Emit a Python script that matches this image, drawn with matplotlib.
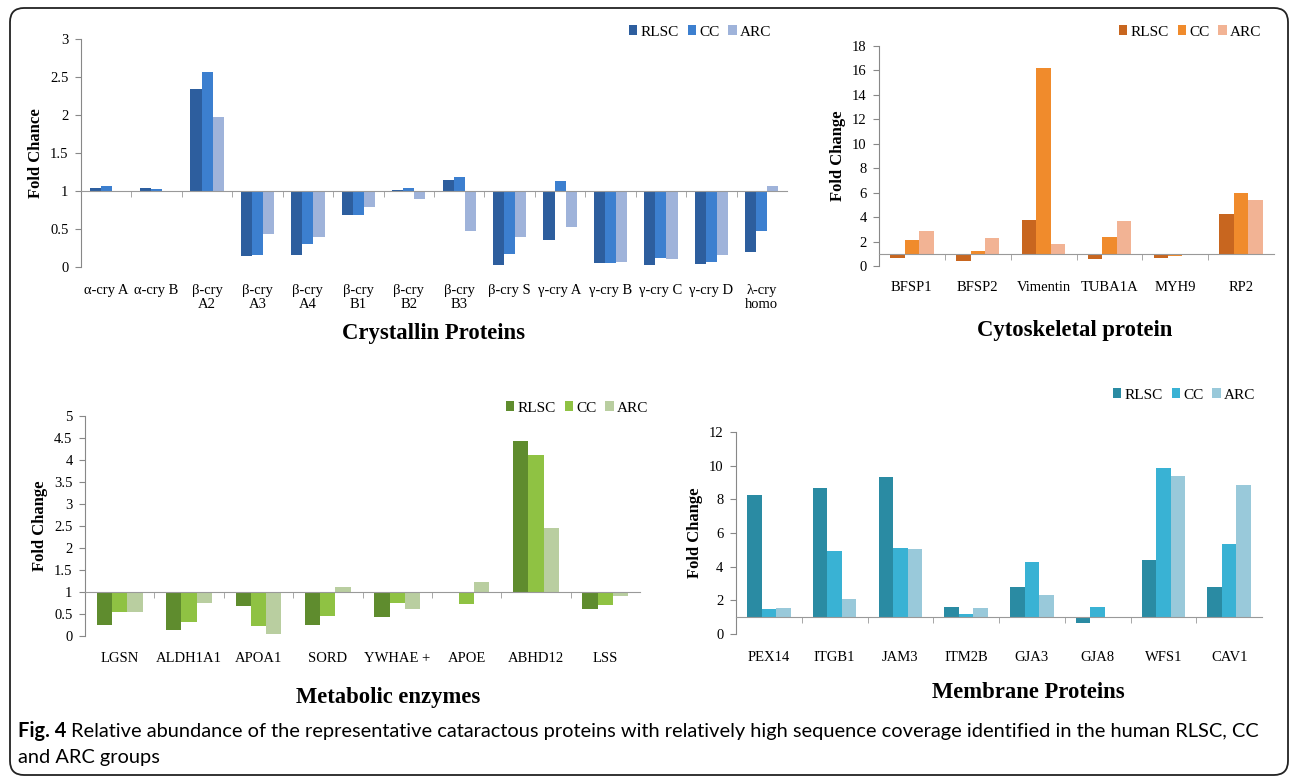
import numpy as np
import matplotlib
matplotlib.use("Agg")
import matplotlib.pyplot as plt
from matplotlib.patches import FancyBboxPatch
from matplotlib.transforms import IdentityTransform

W, H = 1292, 780
series = ["RLSC", "CC", "ARC"]

# Crystallin proteins
cry_labels = ["α-cry A", "α-cry B", "β-cry\nA2", "β-cry\nA3", "β-cry\nA4", "β-cry\nB1", "β-cry\nB2",
              "β-cry\nB3", "β-cry S", "γ-cry A", "γ-cry B", "γ-cry C", "γ-cry D", "λ-cry\nhomo"]
cry_rlsc = [1.04, 1.04, 2.34, 0.15, 0.16, 0.68, 1.01, 1.15, 0.02, 0.35, 0.05, 0.03, 0.04, 0.20]
cry_cc = [1.06, 1.03, 2.56, 0.16, 0.30, 0.68, 1.04, 1.18, 0.17, 1.13, 0.05, 0.12, 0.07, 0.48]
cry_arc = [1.00, 0.99, 1.97, 0.43, 0.39, 0.79, 0.89, 0.48, 0.39, 0.52, 0.06, 0.11, 0.16, 1.06]

# Cytoskeletal proteins
cyto_labels = ["BFSP1", "BFSP2", "Vimentin", "TUBA1A", "MYH9", "RP2"]
cyto_rlsc = [0.65, 0.38, 3.8, 0.6, 0.65, 4.25]
cyto_cc = [2.15, 1.23, 16.2, 2.4, 0.85, 5.95]
cyto_arc = [2.87, 2.28, 1.8, 3.7, 0.97, 5.4]

# Metabolic enzymes
met_labels = ["LGSN", "ALDH1A1", "APOA1", "SORD", "YWHAE +", "APOE", "ABHD12", "LSS"]
met_rlsc = [0.25, 0.13, 0.69, 0.25, 0.44, 1.0, 4.44, 0.62]
met_cc = [0.54, 0.31, 0.23, 0.46, 0.75, 0.73, 4.12, 0.71]
met_arc = [0.54, 0.76, 0.05, 1.11, 0.62, 1.23, 2.46, 0.90]

# Membrane proteins
mem_labels = ["PEX14", "ITGB1", "JAM3", "ITM2B", "GJA3", "GJA8", "WFS1", "CAV1"]
mem_rlsc = [8.28, 8.67, 9.35, 1.6, 2.8, 0.65, 4.37, 2.78]
mem_cc = [1.47, 4.93, 5.13, 1.21, 4.27, 1.63, 9.88, 5.32]
mem_arc = [1.53, 2.05, 5.05, 1.53, 2.3, 0.97, 9.39, 8.86]

serif = "Liberation Serif"
fig = plt.figure(figsize=(W / 100, H / 100), dpi=100)

# rounded frame
fig.patches.append(FancyBboxPatch((10, 5), 1278, 767, boxstyle="round,pad=0,rounding_size=14",
                                  transform=IdentityTransform(), fill=False, lw=1.3, ec="#222222"))


def rect(l, t, r, b):
    return [l / W, 1 - b / H, (r - l) / W, (b - t) / H]


def panel(box, labels, vals, colors, ymax, ystep, ylabel, title, title_xy, legend_xy, ytl, label_top):
    ax = fig.add_axes(rect(*box))
    x = np.arange(len(labels))
    w = 0.22
    for k, (v, c) in enumerate(zip(vals, colors)):
        v = np.array(v)
        ax.bar(x + (k - 1) * w, v - 1, bottom=1, width=w, color=c, label=series[k], zorder=2)
    ax.set_xlim(-0.5, len(labels) - 0.5)
    ax.set_ylim(0, ymax)
    ax.set_yticks(np.arange(0, ymax + ystep / 2, ystep))
    ax.set_yticklabels(ytl, fontfamily=serif, fontsize=10.5)
    for s in ["top", "right"]:
        ax.spines[s].set_visible(False)
    ax.spines["left"].set_color("#888888")
    ax.spines["bottom"].set_color("#999999")
    ax.spines["bottom"].set_position(("data", 1))
    ax.tick_params(axis="y", color="#888888", length=4, pad=5)
    # tick marks between categories
    ax.set_xticks(np.arange(len(labels) - 1) + 0.5, minor=True)
    ax.tick_params(axis="x", which="minor", length=4, color="#999999")
    ax.set_xticks(x)
    fig_h = box[3] - box[1]
    base_px = box[3] - fig_h * (1 / ymax)
    ax.set_xticklabels(labels, fontfamily=serif, fontsize=10.5, linespacing=1.05)
    ax.tick_params(axis="x", which="major", length=0, pad=(label_top - base_px) * 0.72)
    ax.set_ylabel(ylabel, fontfamily=serif, fontsize=12, fontweight="bold")
    fig.text(title_xy[0] / W, 1 - title_xy[1] / H, title, ha="center", va="center",
             fontfamily=serif, fontsize=16.3, fontweight="bold")
    ax.legend(loc="center", bbox_to_anchor=(legend_xy[0] / W, 1 - legend_xy[1] / H),
              bbox_transform=fig.transFigure, ncol=3, frameon=False, handlelength=0.55,
              handleheight=0.55, handletextpad=0.2, columnspacing=0.6,
              prop={"family": serif, "size": 11})
    return ax


panel((81, 39, 787, 267), cry_labels, [cry_rlsc, cry_cc, cry_arc],
      ["#2d5e9e", "#3c7fcf", "#9fb3da"], 3, 0.5, "Fold Chance", "Crystallin Proteins",
      (434, 333), (700, 32), ["0", "0.5", "1", "1.5", "2", "2.5", "3"], 284)
panel((879, 46, 1274, 266), cyto_labels, [cyto_rlsc, cyto_cc, cyto_arc],
      ["#c8661f", "#f08b2c", "#f2b394"], 18, 2, "Fold Change", "Cytoskeletal protein",
      (1075, 330), (1190, 32), [str(v) for v in range(0, 19, 2)], 281)
panel((85, 416, 640, 636), met_labels, [met_rlsc, met_cc, met_arc],
      ["#5f8c2e", "#8fc243", "#b9cea0"], 5, 0.5, "Fold Change", "Metabolic enzymes",
      (388, 698), (577, 408), ["0", "0.5", "1", "1.5", "2", "2.5", "3", "3.5", "4", "4.5", "5"], 652)
panel((736, 432, 1262, 634), mem_labels, [mem_rlsc, mem_cc, mem_arc],
      ["#2a8ba3", "#39b2d4", "#99c9da"], 12, 2, "Fold Change", "Membrane Proteins",
      (1028, 692), (1184, 395), [str(v) for v in range(0, 13, 2)], 651)

# caption, sized so the first line spans the same width as the reference
cap_font = ["Lato", "DejaVu Sans"]
cap_rest = ("Relative abundance of the representative cataractous proteins with relatively high "
            "sequence coverage identified in the human RLSC, CC")
t_fig = fig.text(18 / W, 1 - 731 / H, "Fig. 4", fontfamily=cap_font, fontweight="bold",
                 fontsize=14, va="center", ha="left")
t_rest = fig.text(0, 1 - 731 / H, cap_rest, fontfamily=cap_font, fontsize=14, va="center", ha="left")
t_last = fig.text(18 / W, 1 - 757 / H, "and ARC groups", fontfamily=cap_font, fontsize=14,
                  va="center", ha="left")
r = fig.canvas.get_renderer()
total = t_fig.get_window_extent(r).width + 6 + t_rest.get_window_extent(r).width
size = 14 * (1250 / total)
for t in (t_fig, t_rest, t_last):
    t.set_fontsize(size)
fig_w = t_fig.get_window_extent(r).width
t_rest.set_x((18 + fig_w + 5) / W)

fig.savefig("out.png", dpi=100)
